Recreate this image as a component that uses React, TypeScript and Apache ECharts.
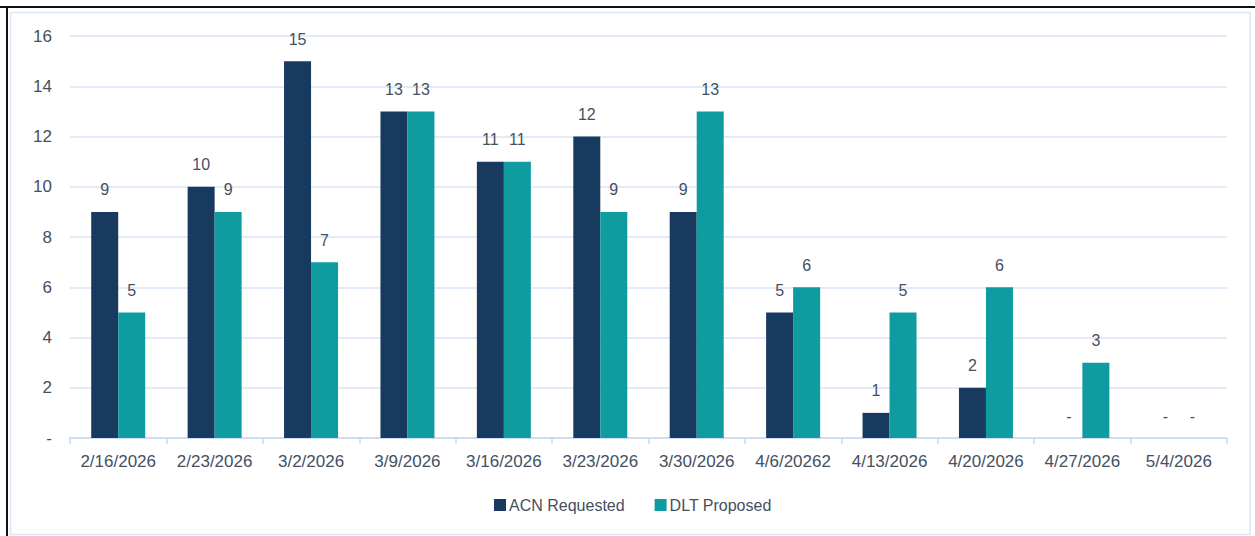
import React, { useEffect, useRef } from "react";
import * as echarts from "echarts";

const categories = [
  "2/16/2026", "2/23/2026", "3/2/2026", "3/9/2026", "3/16/2026", "3/23/2026",
  "3/30/2026", "4/6/20262", "4/13/2026", "4/20/2026", "4/27/2026", "5/4/2026",
];
const acnRequested = [9, 10, 15, 13, 11, 12, 9, 5, 1, 2, 0, 0];
const dltProposed = [5, 9, 7, 13, 11, 9, 13, 6, 5, 6, 3, 0];
const seriesNames = ["ACN Requested", "DLT Proposed"];
const yMax = 16;
const yInterval = 2;

const textColor = "#44505f";
const fontFamily = "'Liberation Sans', Arial, sans-serif";

export default function App() {
  const ref = useRef<HTMLDivElement>(null);
  useEffect(() => {
    if (!ref.current) return;
    const chart = echarts.init(ref.current, undefined, { renderer: "svg" });
    const label = {
      show: true,
      position: "top" as const,
      distance: 14,
      color: textColor,
      fontSize: 16,
      fontFamily,
      formatter: (p: any) => (p.value === 0 ? "-" : String(p.value)),
    };
    chart.setOption({
      animation: false,
      backgroundColor: "#ffffff",
      textStyle: { fontFamily },
      graphic: [
        { type: "rect", shape: { x: 0, y: 6, width: 1255, height: 2 }, style: { fill: "#111" } },
        { type: "rect", shape: { x: 6, y: 6, width: 2, height: 530 }, style: { fill: "#111" } },
        {
          type: "rect",
          shape: { x: 10.5, y: 12.5, width: 1239.5, height: 522 },
          style: { fill: "none", stroke: "#dae6f5", lineWidth: 1.5 },
        },
      ],
      grid: { left: 70, right: 28, top: 36, bottom: 98, containLabel: false },
      legend: {
        data: seriesNames,
        bottom: 18,
        left: 489,
        itemWidth: 12,
        itemHeight: 12,
        itemGap: 30,
        icon: "rect",
        textStyle: { color: textColor, fontSize: 16, fontFamily, padding: [0, 0, 0, -2] },
      },
      xAxis: {
        type: "category",
        data: categories,
        axisLine: { lineStyle: { color: "#c9d9ef", width: 1.5 } },
        axisTick: { show: true, length: 6, alignWithLabel: false, lineStyle: { color: "#c9d9ef", width: 1.5 } },
        axisLabel: { color: textColor, fontSize: 17, margin: 15, fontFamily, interval: 0 },
      },
      yAxis: {
        type: "value",
        min: 0,
        max: yMax,
        interval: yInterval,
        axisLine: { show: false },
        axisTick: { show: false },
        splitLine: { lineStyle: { color: "#d9e5f6", width: 1.5 } },
        axisLabel: {
          color: textColor,
          fontSize: 17,
          margin: 18,
          fontFamily,
          formatter: (v: number) => (v === 0 ? "-" : String(v)),
        },
      },
      series: [
        {
          name: seriesNames[0],
          type: "bar",
          data: acnRequested,
          barWidth: 27,
          barGap: "0%",
          itemStyle: { color: "#183a5f" },
          label,
        },
        {
          name: seriesNames[1],
          type: "bar",
          data: dltProposed,
          barWidth: 27,
          barGap: "0%",
          itemStyle: { color: "#0e9ca1" },
          label,
        },
      ],
    });
    return () => chart.dispose();
  }, []);
  return (
    <div
      ref={ref}
      style={{ position: "absolute", left: 0, top: 0, width: 1255, height: 536 }}
    />
  );
}
